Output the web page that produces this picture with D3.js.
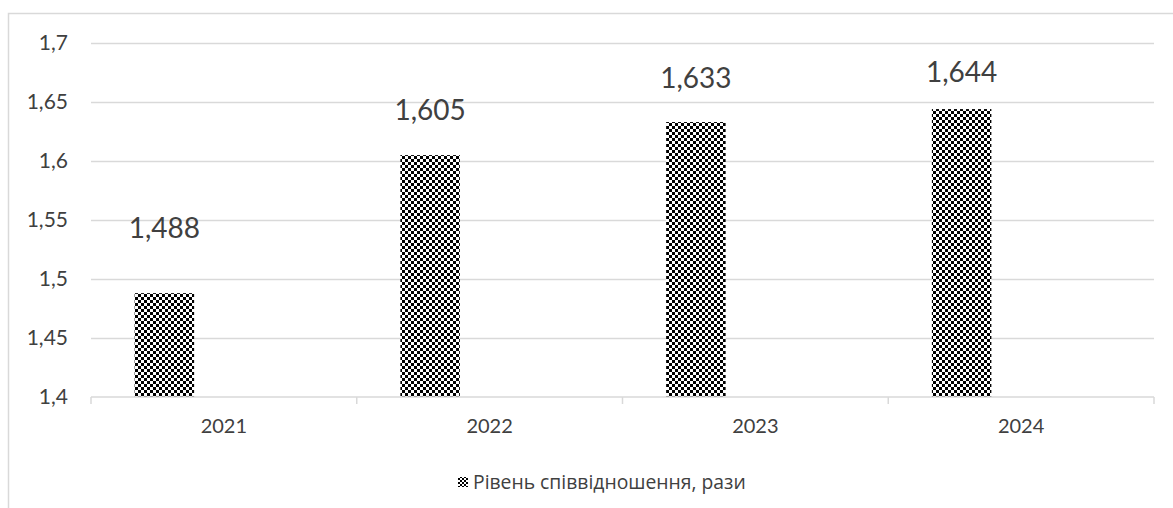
<!DOCTYPE html>
<html>
<head>
<meta charset="utf-8">
<script src="https://cdn.jsdelivr.net/npm/d3@7/dist/d3.min.js"></script>
<style>
  html, body { margin: 0; padding: 0; background: #fff; }
  svg { display: block; font-family: Lato, "Open Sans", sans-serif; }
</style>
</head>
<body>
<svg id="chart" width="1173" height="508"></svg>
<script>
// Data
const years = ["2021", "2022", "2023", "2024"];
const ratio = [1.488, 1.605, 1.633, 1.644];
const ratioLabels = ["1,488", "1,605", "1,633", "1,644"];
const yTicks = [1.4, 1.45, 1.5, 1.55, 1.6, 1.65, 1.7];
const seriesName = "Рівень співвідношення, рази";
// How far each value label sits above its bar top, px
const labelLift = [65, 45, 44, 37];

const fmt = d => String(d).replace(".", ",");

const svg = d3.select("#chart");
const W = 1173, H = 508;
const plot = { left: 91, right: 1154, top: 43, bottom: 397 };

// Checkerboard fill
const defs = svg.append("defs");
const pat = defs.append("pattern")
  .attr("id", "checker")
  .attr("patternUnits", "userSpaceOnUse")
  .attr("width", 6).attr("height", 6);
pat.append("rect").attr("width", 6).attr("height", 6).attr("fill", "#fff");
pat.append("rect").attr("x", 0).attr("y", 0).attr("width", 3).attr("height", 3).attr("fill", "#000");
pat.append("rect").attr("x", 3).attr("y", 3).attr("width", 3).attr("height", 3).attr("fill", "#000");

const patSmall = defs.append("pattern")
  .attr("id", "checkerSmall")
  .attr("patternUnits", "userSpaceOnUse")
  .attr("width", 4).attr("height", 4);
patSmall.append("rect").attr("width", 4).attr("height", 4).attr("fill", "#fff");
patSmall.append("rect").attr("x", 0).attr("y", 0).attr("width", 2).attr("height", 2).attr("fill", "#000");
patSmall.append("rect").attr("x", 2).attr("y", 2).attr("width", 2).attr("height", 2).attr("fill", "#000");

// Outer chart frame
svg.append("rect")
  .attr("x", 8.5).attr("y", 13.5)
  .attr("width", W + 20).attr("height", H + 20)
  .attr("fill", "none").attr("stroke", "#d9d9d9").attr("stroke-width", 1.5);

// Category bands; each band holds three series slots, the first one is drawn
const x = d3.scaleBand().domain(years).range([plot.left, plot.right]);
const slotWidth = x.bandwidth() / (3 + 88 / 60);
const slotOffset = slotWidth * (44 / 60);
const y = d3.scaleLinear().domain([1.4, 1.7]).range([plot.bottom, plot.top]);

// Gridlines
svg.append("g")
  .selectAll("line")
  .data(yTicks.slice(1))
  .join("line")
  .attr("x1", plot.left).attr("x2", plot.right)
  .attr("y1", d => Math.round(y(d)) + 0.5).attr("y2", d => Math.round(y(d)) + 0.5)
  .attr("stroke", "#d9d9d9").attr("stroke-width", 1.5);

// Y axis labels
const yAxis = d3.axisLeft(y).tickValues(yTicks).tickFormat(fmt).tickSize(0).tickPadding(0);
const gy = svg.append("g").attr("transform", `translate(${plot.left - 23},0)`).call(yAxis);
gy.select(".domain").remove();
gy.selectAll("text").attr("font-size", 21).attr("fill", "#404040").attr("font-family", "Lato, sans-serif");

// Bars
svg.append("g")
  .selectAll("rect")
  .data(ratio)
  .join("rect")
  .attr("x", (d, i) => x(years[i]) + slotOffset)
  .attr("width", slotWidth)
  .attr("y", d => y(d))
  .attr("height", d => y(1.4) - y(d))
  .attr("fill", "url(#checker)");

// X axis with category separators
const xAxis = d3.axisBottom(x).tickSize(0).tickPadding(22);
const gx = svg.append("g").attr("transform", `translate(0,${plot.bottom})`).call(xAxis);
gx.select(".domain").attr("stroke", "#d9d9d9").attr("stroke-width", 1.5)
  .attr("d", `M${plot.left},0H${plot.right}`);
gx.selectAll("text").attr("font-size", 20).attr("fill", "#404040").attr("font-family", "Lato, sans-serif");
svg.append("g")
  .selectAll("line")
  .data(years.map(yr => x(yr)).concat([plot.right]))
  .join("line")
  .attr("x1", d => d).attr("x2", d => d)
  .attr("y1", plot.bottom).attr("y2", plot.bottom + 7)
  .attr("stroke", "#d9d9d9").attr("stroke-width", 1.5);

// Value labels
svg.append("g")
  .selectAll("text")
  .data(ratio)
  .join("text")
  .attr("x", (d, i) => x(years[i]) + slotOffset + slotWidth / 2)
  .attr("y", (d, i) => y(d) - labelLift[i])
  .attr("dy", "0.35em")
  .attr("text-anchor", "middle")
  .attr("font-size", 28)
  .attr("fill", "#404040")
  .text((d, i) => ratioLabels[i]);

// Legend
const lg = svg.append("g").attr("transform", "translate(458,482)");
lg.append("rect").attr("x", 0).attr("y", -5).attr("width", 10).attr("height", 10)
  .attr("fill", "url(#checkerSmall)");
const lt = lg.append("text").attr("x", 15).attr("y", 0).attr("dy", "0.35em")
  .attr("font-family", "'Open Sans', 'Noto Sans', sans-serif")
  .attr("font-size", 16).attr("fill", "#404040").text(seriesName);
// fit the legend text to its slot width
const tw = lt.node().getComputedTextLength();
lt.attr("font-size", 16 * 273 / tw);
</script>
</body>
</html>
